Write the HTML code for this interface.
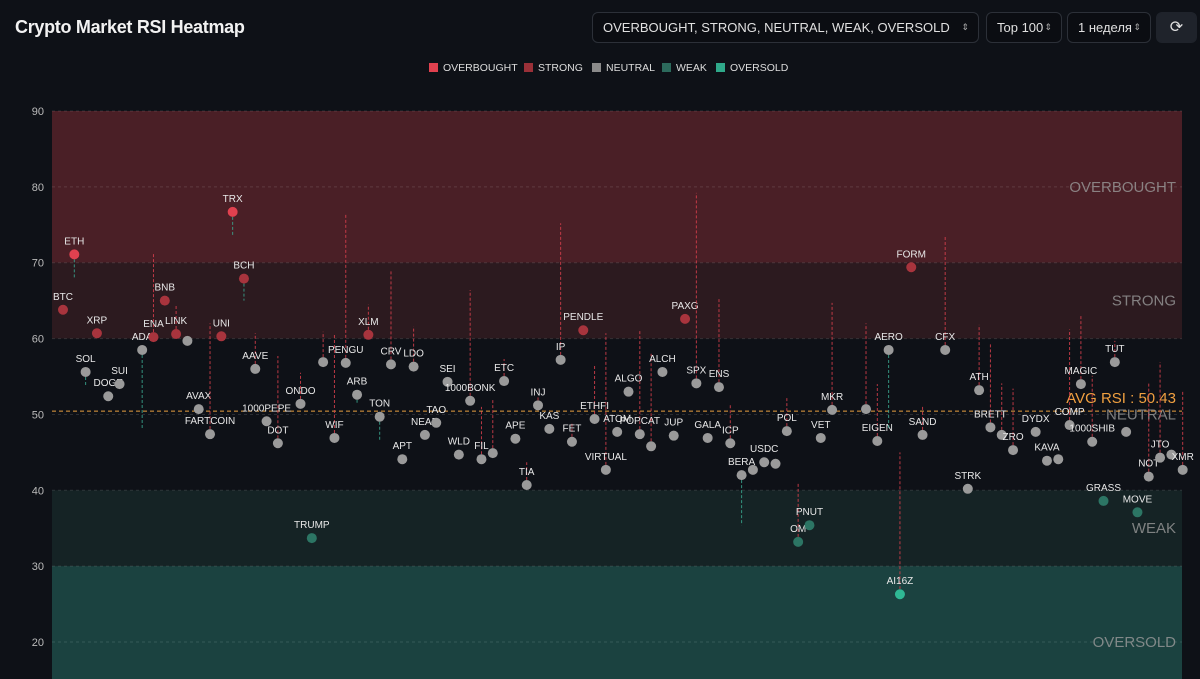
<!DOCTYPE html>
<html><head><meta charset="utf-8">
<style>
html,body{margin:0;padding:0;background:#0e1117;width:1200px;height:679px;overflow:hidden;font-family:"Liberation Sans","Noto Sans CJK SC",sans-serif;color:#e6e6e6}
.title{position:absolute;left:15px;top:17px;font-size:18px;font-weight:bold;color:#f2f2f2;letter-spacing:-0.3px}
.ctrl{position:absolute;top:12px;height:31px;border:1px solid #2c3038;border-radius:6px;background:#0b0d12;font-size:13px;color:#e0e0e0;box-sizing:border-box;line-height:29px;padding:0 10px;white-space:nowrap;overflow:hidden}
.ctrl .ar{font-size:9px;color:#aaa;margin-left:5px;position:absolute;right:9px;top:0}
.leg{position:absolute;top:62px;font-size:10.5px;color:#ddd;white-space:nowrap}
.leg i{display:inline-block;width:9px;height:9px;margin-right:5px;vertical-align:-1px}
svg{position:absolute;left:0;top:0}
</style></head><body>
<div class="title">Crypto Market RSI Heatmap</div>
<div class="ctrl" style="left:592px;width:387px">OVERBOUGHT, STRONG, NEUTRAL, WEAK, OVERSOLD <span class="ar">⇕</span></div>
<div class="ctrl" style="left:986px;width:76px">Top 100 <span class="ar">⇕</span></div>
<div class="ctrl" style="left:1067px;width:84px">1 неделя <span class="ar">⇕</span></div>
<div class="ctrl" style="left:1156px;width:41px;background:#1f232b;border-color:#1f232b;text-align:center;font-size:16px;padding:0">⟳</div>
<div class="leg" style="left:429px"><i style="background:#e0414f"></i>OVERBOUGHT</div>
<div class="leg" style="left:524px"><i style="background:#9a3038"></i>STRONG</div>
<div class="leg" style="left:592px"><i style="background:#8a8a8a"></i>NEUTRAL</div>
<div class="leg" style="left:662px"><i style="background:#2c6a5c"></i>WEAK</div>
<div class="leg" style="left:716px"><i style="background:#2fa98a"></i>OVERSOLD</div>
<svg id="chart" width="1200" height="679"></svg>
<script>
const names=["BTC","ETH","SOL","XRP","DOGE","SUI","ADA","ENA","BNB","LINK","","AVAX","FARTCOIN","UNI","TRX","BCH","AAVE","1000PEPE","DOT","ONDO","TRUMP","","WIF","PENGU","ARB","XLM","TON","CRV","APT","LDO","NEAR","TAO","SEI","WLD","1000BONK","FIL","","ETC","APE","TIA","INJ","KAS","IP","FET","PENDLE","ETHFI","VIRTUAL","ATOM","ALGO","POPCAT","","ALCH","JUP","PAXG","SPX","GALA","ENS","ICP","BERA","","USDC","","POL","OM","PNUT","VET","MKR","","EIGEN","AERO","AI16Z","FORM","SAND","CFX","STRK","ATH","BRETT","","ZRO","DYDX","KAVA","","COMP","MAGIC","1000SHIB","GRASS","TUT","","MOVE","NOT","JTO","","XMR"];
const ranks=[0,1,2,3,4,5,7,8,9,10,11,12,13,14,15,16,17,18,19,21,22,23,24,25,26,27,28,29,30,31,32,33,34,35,36,37,38,39,40,41,42,43,44,45,46,47,48,49,50,51,52,53,54,55,56,57,58,59,60,61,62,63,64,65,66,67,68,71,72,73,74,75,76,78,80,81,82,83,84,86,87,88,89,90,91,92,93,94,95,96,97,98,99];
const rsi=[63.8,71.1,55.6,60.7,52.4,54.0,58.5,60.2,65.0,60.6,59.7,50.7,47.4,60.3,76.7,67.9,56.0,49.1,46.2,51.4,33.7,56.9,46.9,56.8,52.6,60.5,49.7,56.6,44.1,56.3,47.3,48.9,54.3,44.7,51.8,44.1,44.9,54.4,46.8,40.7,51.2,48.1,57.2,46.4,61.1,49.4,42.7,47.7,53.0,47.4,45.8,55.6,47.2,62.6,54.1,46.9,53.6,46.2,42.0,42.7,43.7,43.5,47.8,33.2,35.4,46.9,50.6,50.7,46.5,58.5,26.3,69.4,47.3,58.5,40.2,53.2,48.3,47.3,45.3,47.7,43.9,44.1,48.6,54.0,46.4,38.6,56.9,47.7,37.1,41.8,44.3,44.7,42.7];
const prevRsi=[null,68,53.8,null,null,null,48,71.3,null,64.4,null,null,62,null,73.5,65,60.7,null,57.7,55.5,null,60.9,60.5,76.4,51.5,64.5,46.5,69,null,61.6,null,null,null,null,66.4,51,52,57.3,null,43.7,52.5,null,75.2,49,null,56.4,60.7,null,null,61.2,58,null,null,null,79.2,null,65.3,51.3,35.4,null,null,null,52.4,41,null,null,64.7,62,54,48,45,null,51,73.5,null,61.8,59.5,54.1,53.4,null,null,null,61.2,63.2,55.1,null,59.7,null,null,54.1,56.9,null,53.1];
const yTicks=[20,30,40,50,60,70,80,90];
const zones=[{lo:70,hi:90,c:"#4a1f26",n:"OVERBOUGHT"},{lo:60,hi:70,c:"#2c1a1f",n:"STRONG"},{lo:40,hi:60,c:"#0e1117",n:"NEUTRAL"},{lo:30,hi:40,c:"#152325",n:"WEAK"},{lo:10,hi:30,c:"#1b4240",n:"OVERSOLD"}];
const avgRsi=50.43;

const L=52,R=1182,NS="http://www.w3.org/2000/svg";
const y=v=>111+(90-v)*7.586;
const x=r=>63+r*11.31;
const svg=document.getElementById('chart');
function el(t,a,p){const e=document.createElementNS(NS,t);for(const k in a)e.setAttribute(k,a[k]);(p||svg).appendChild(e);return e;}
zones.forEach(z=>{
  const r=el('rect',{x:L,y:y(z.hi),width:R-L,height:Math.min(y(z.lo),679)-y(z.hi),fill:z.c});
  
  
});
yTicks.forEach(t=>{
  el('line',{x1:L,x2:R,y1:y(t),y2:y(t),stroke:'#ffffff',"stroke-opacity":0.12,"stroke-dasharray":"3,3"});
  const tx=el('text',{x:44,y:y(t)+4,"text-anchor":"end",fill:'#bbb',"font-size":11});
  tx.textContent=t;
  
  
});
const zl=[["OVERBOUGHT",80],["STRONG",65],["NEUTRAL",50],["WEAK",35],["OVERSOLD",20]];
zl.forEach(([n,v])=>{const t=el('text',{x:1176,y:y(v)+5,"text-anchor":"end",fill:'#9a9a9a',"fill-opacity":0.8,"font-size":15});t.textContent=n;

});
el('line',{x1:L,x2:R,y1:y(avgRsi),y2:y(avgRsi),stroke:'#e8a040',"stroke-width":1,"stroke-dasharray":"4,3"});
const av=el('text',{x:1176,y:y(avgRsi)-8,"text-anchor":"end",fill:'#f0a040',"font-size":15});
av.textContent='AVG RSI : '+avgRsi.toFixed(2);


function col(v){return v>=70?'#e0414f':v>=60?'#a8343d':v>=40?'#9a9a9a':v>=30?'#2c7564':'#2fb894';}
rsi.forEach((v,i)=>{
  const cx=x(ranks[i]),cy=y(v),p=prevRsi[i];
  if(p!==null){const ln=el('line',{x1:cx,x2:cx,y1:cy,y2:y(p),stroke:p>v?'#d8404c':'#3aa890',"stroke-width":1,"stroke-dasharray":"3,2","stroke-opacity":0.85});
  
  }
  const c=el('circle',{cx:cx,cy:cy,r:5,fill:col(v)});
  
  
  if(names[i]){const t=el('text',{x:cx,y:cy-10,"text-anchor":"middle",fill:'#e8e8e8',"font-size":10});t.textContent=names[i];
  
  }
});
</script>
</body></html>
